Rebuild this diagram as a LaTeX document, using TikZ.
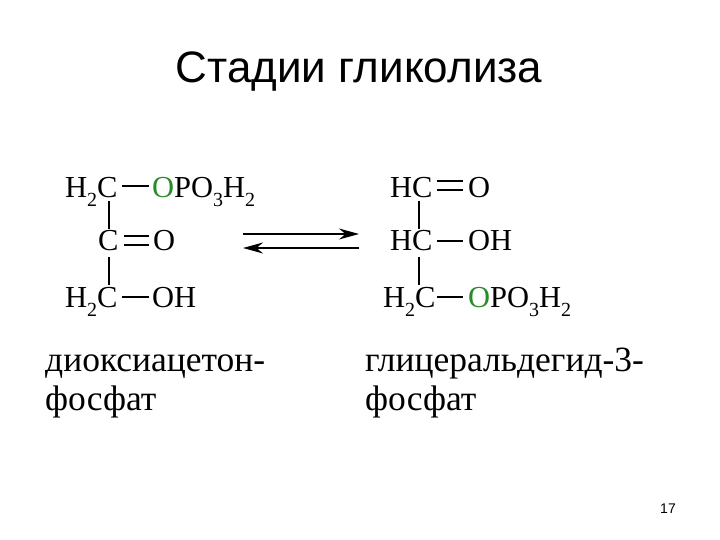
\documentclass[tikz,border=0pt]{standalone}
\usepackage{fontspec}
\setmainfont{Liberation Serif}
\newfontfamily\ttlfont{Liberation Sans}
\usetikzlibrary{arrows.meta}
\definecolor{ogreen}{RGB}{40,140,40}
\newcommand{\sbs}[1]{\raisebox{-0.7ex}{\fontsize{20}{20}\selectfont #1}}
\begin{document}
\begin{tikzpicture}[x=1pt,y=-1pt,
 chem/.style={inner sep=0pt,anchor=base west,font=\fontsize{30.5}{32}\selectfont},
 lbl/.style={inner sep=0pt,anchor=base west,font=\fontsize{35.5}{38}\selectfont},
 bond/.style={line width=1.6pt},
 eq/.style={line width=1.6pt,-{Stealth[length=20pt,width=11pt]}}]
\useasboundingbox (0,0) rectangle (720,540);
\node[inner sep=0pt,anchor=base,font=\ttlfont\fontsize{44}{46}\selectfont] (title) at (359,83) {Стадии гликолиза};
% left
\node[chem] (l1) at (65,197) {H\sbs{2}C};
\node[chem] (l1r) at (152,197) {\textcolor{ogreen}{O}PO\sbs{3}H\sbs{2}};
\node[chem] (l2) at (98,251) {C};
\node[chem] (l2r) at (153,251) {O};
\node[chem] (l3) at (65,307) {H\sbs{2}C};
\node[chem] (l3r) at (152,307) {OH};
\draw[bond] (122,186) -- (149,186);
\draw[bond] (124,236) -- (149,236) (124,245) -- (149,245);
\draw[bond] (122,297) -- (149,297);
\draw[bond] (109,201) -- (109,229) (109,257) -- (109,285);
% arrows
\coordinate (a1) at (243,234); \coordinate (a2) at (359,234);
\coordinate (b1) at (359,248); \coordinate (b2) at (243,248);
\draw[eq] (a1) -- (a2);
\draw[eq] (b1) -- (b2);
% right
\node[chem] (r1) at (390,197) {HC};
\node[chem] (r1r) at (468,197) {O};
\node[chem] (r2) at (390,251) {HC};
\node[chem] (r2r) at (468,251) {OH};
\node[chem] (r3) at (383,307) {H\sbs{2}C};
\node[chem] (r3r) at (468,307) {\textcolor{ogreen}{O}PO\sbs{3}H\sbs{2}};
\draw[bond] (437,181) -- (463,181) (437,190) -- (463,190);
\draw[bond] (437,241) -- (463,241);
\draw[bond] (437,297) -- (463,297);
\draw[bond] (419,201) -- (419,229) (419,257) -- (419,285);
% labels
\node[lbl] (ll1) at (45,371) {диоксиацетон-};
\node[lbl] (ll2) at (45,410) {фосфат};
\node[lbl] (rl1) at (365,371) {глицеральдегид-3-};
\node[lbl] (rl2) at (365,410) {фосфат};
\node[inner sep=0pt,anchor=base,font=\ttlfont\fontsize{14}{14}\selectfont] (pg) at (668,513) {17};
\end{tikzpicture}
\end{document}
